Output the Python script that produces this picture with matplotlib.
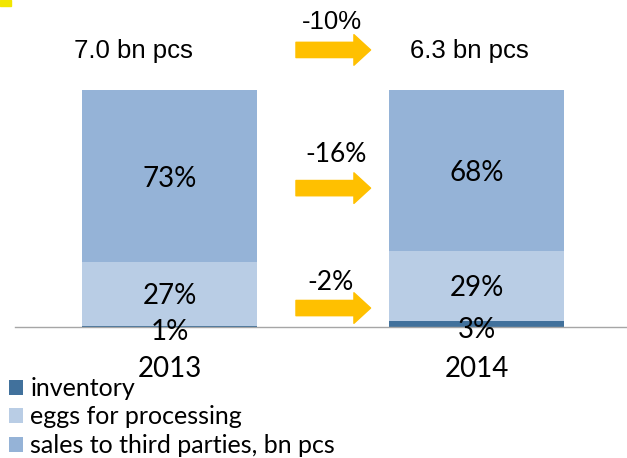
import matplotlib
matplotlib.use("Agg")
import matplotlib.pyplot as plt
from matplotlib.patches import Rectangle

years = ["2013", "2014"]
inventory = [0.6, 2.6]
eggs_processing = [26.8, 29.4]
sales_third = [72.6, 68.0]
totals = ["7.0 bn pcs", "6.3 bn pcs"]
changes = ["-10%", "-16%", "-2%"]
series_names = ["inventory", "eggs for processing", "sales to third parties, bn pcs"]

C_INV = "#41719C"
C_EGG = "#B9CDE5"
C_SAL = "#95B3D7"
C_ARR = "#FFC000"

W, H = 627, 458
fig = plt.figure(figsize=(W / 100, H / 100), dpi=100)
fig.patches.append(Rectangle((0, 1 - 6 / H), 11 / W, 6 / H, transform=fig.transFigure,
                             color="#F2E600", zorder=5))

ax = fig.add_axes([15 / W, (H - 327) / H, (W - 15) / W, 237 / H])
x = [0, 1]
bw = 0.57
ax.bar(x, inventory, bw, color=C_INV, label=series_names[0])
ax.bar(x, eggs_processing, bw, bottom=inventory, color=C_EGG, label=series_names[1])
b2 = [i + e for i, e in zip(inventory, eggs_processing)]
ax.bar(x, sales_third, bw, bottom=b2, color=C_SAL, label=series_names[2])
ax.set_xlim(-0.503, 1.490)
ax.set_ylim(0, 100)

cal = "Lato"
ari = "Liberation Sans"
total_x_offset = [-0.116, -0.024]
for i in x:
    ax.text(i, b2[i] + sales_third[i] / 2, f"{round(sales_third[i])}%", ha="center",
            va="center_baseline", fontsize=20, family=cal)
    ax.text(i, inventory[i] + eggs_processing[i] / 2, f"{round(eggs_processing[i])}%", ha="center",
            va="center_baseline", fontsize=20, family=cal)
    ax.text(i, inventory[i] / 2 - 1.5, f"{round(inventory[i])}%", ha="center",
            va="center_baseline", fontsize=20, family=cal, clip_on=False)
    ax.text(i + total_x_offset[i], 116.5, totals[i], ha="center", va="center", fontsize=18.5,
            family=ari, clip_on=False)

# arrows and change labels
arrow_y = [116.9, 58.6, 8.0]
label_y = [128.7, 72.6, 18.6]
label_x = [0.529, 0.542, 0.523]
fams = [ari, cal, cal]
sizes = [18.5, 19, 19]
for k in range(3):
    ax.annotate("", xy=(0.655, arrow_y[k]), xytext=(0.412, arrow_y[k]),
                arrowprops=dict(arrowstyle="simple,head_length=0.6,head_width=1.1,tail_width=0.55",
                                color=C_ARR, shrinkA=0, shrinkB=0, mutation_scale=20),
                annotation_clip=False)
    ax.text(label_x[k], label_y[k], changes[k], ha="center", va="center", fontsize=sizes[k],
            family=fams[k], clip_on=False)

for s in ["top", "left", "right"]:
    ax.spines[s].set_visible(False)
ax.spines["bottom"].set_color("#A6A6A6")
ax.spines["bottom"].set_linewidth(1)
ax.set_yticks([])
ax.set_xticks(x)
ax.set_xticklabels(years, fontsize=20, family=cal)
ax.tick_params(axis="x", length=0, pad=21)

leg = fig.legend(loc="upper left", bbox_to_anchor=(4 / W, 1 - 372 / H), frameon=False,
                 prop={"family": cal, "size": 18}, handlelength=0.56, handleheight=0.56,
                 handletextpad=0.3, labelspacing=0.22, borderaxespad=0, borderpad=0.2)

fig.savefig("out.png", dpi=100)
